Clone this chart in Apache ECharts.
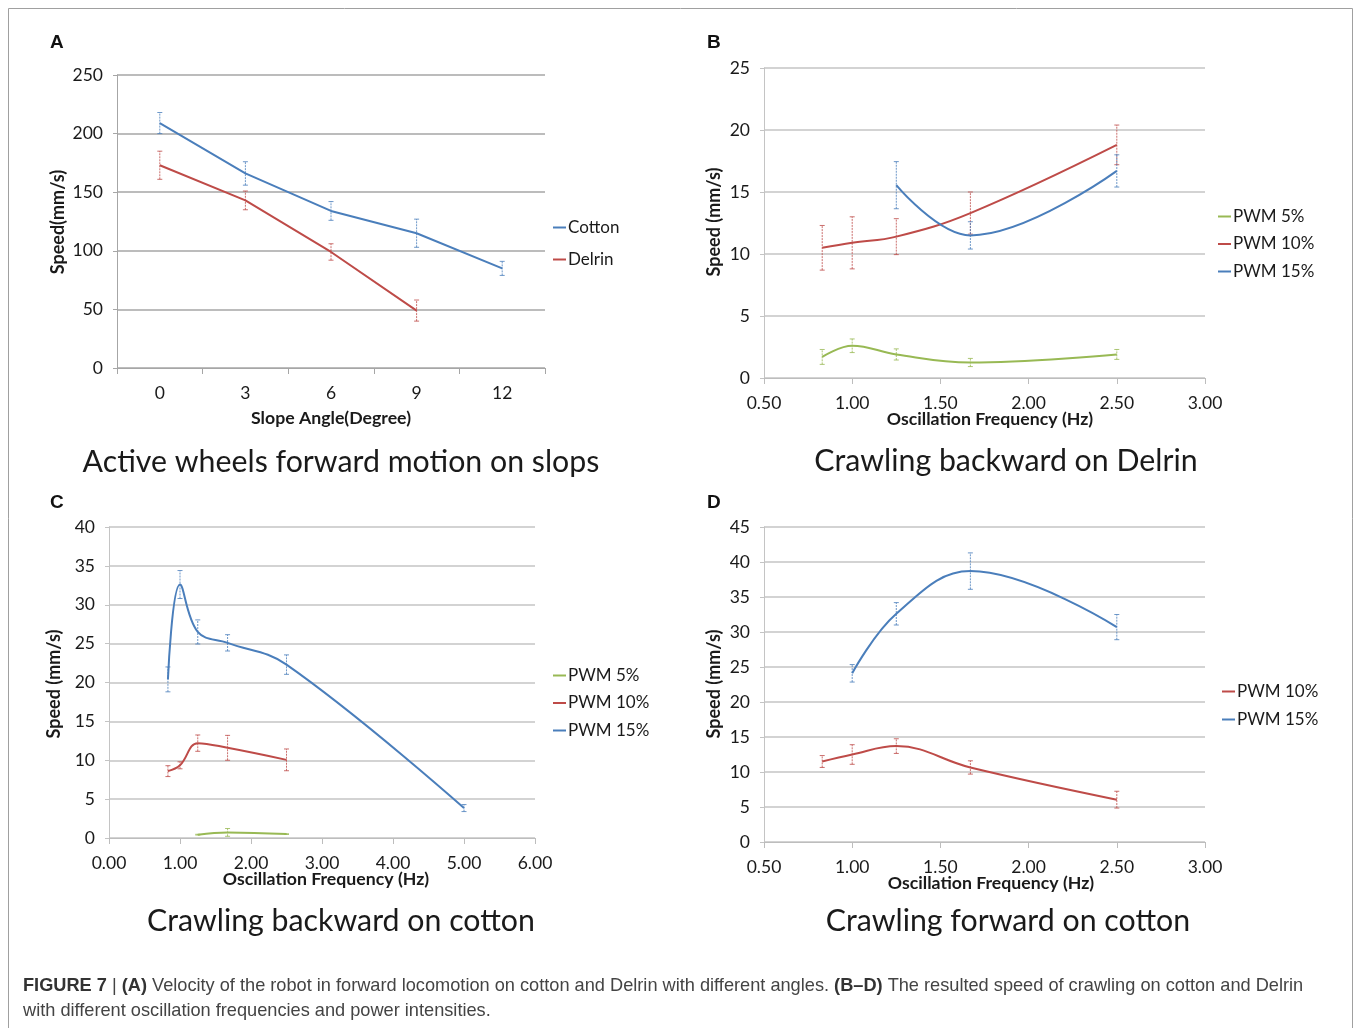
<!DOCTYPE html>
<html>
<head>
<meta charset="utf-8">
<script src="https://cdn.jsdelivr.net/npm/echarts@6/dist/echarts.min.js"></script>
<style>
html,body{margin:0;padding:0;background:#fff;}
#chart{width:1357px;height:1028px;}
</style>
</head>
<body>
<div id="chart"></div>
<script>
// ---------- DATA ----------
// Panel A
const catsA = ['0', '3', '6', '9', '12'];
const cottonA = [209, 166, 134, 115, 85];
const cottonAErr = [9, 10, 8, 12, 6];
const delrinA = [173, 143, 99, 49];
const delrinAErr = [12, 8, 7, 9];
const ticksYA = [0, 50, 100, 150, 200, 250];

// Panel B (Delrin backward)
const freqB5 = [0.83, 1.0, 1.25, 1.67, 2.5];
const pwm5B = [1.7, 2.6, 1.9, 1.25, 1.9];
const pwm5BErr = [0.6, 0.55, 0.45, 0.33, 0.4];
const freqB10 = [0.83, 1.0, 1.25, 1.67, 2.5];
const pwm10B = [10.5, 10.9, 11.4, 13.3, 18.8];
const pwm10BErr = [1.8, 2.1, 1.45, 1.7, 1.6];
const freqB15 = [1.25, 1.67, 2.5];
const pwm15B = [15.55, 11.5, 16.7];
const pwm15BErr = [1.9, 1.1, 1.3];
const ticksXB = [0.5, 1.0, 1.5, 2.0, 2.5, 3.0];
const ticksYB = [0, 5, 10, 15, 20, 25];

// Panel C (cotton backward)
const freqC5 = [1.25, 1.67, 2.5];
const pwm5C = [0.43, 0.72, 0.5];
const pwm5CErr = [0.05, 0.5, 0.05];
const freqC10 = [0.83, 1.0, 1.25, 1.67, 2.5];
const pwm10C = [8.6, 9.35, 12.2, 11.6, 10.05];
const pwm10CErr = [0.7, 0.45, 1.05, 1.6, 1.4];
const freqC15 = [0.83, 1.0, 1.25, 1.67, 2.5, 5.0];
const pwm15C = [20.4, 32.6, 26.5, 25.1, 22.3, 3.85];
const pwm15CErr = [1.6, 1.8, 1.55, 1.05, 1.25, 0.45];
const ticksXC = [0, 1, 2, 3, 4, 5, 6];
const ticksYC = [0, 5, 10, 15, 20, 25, 30, 35, 40];

// Panel D (cotton forward)
const freqD10 = [0.83, 1.0, 1.25, 1.67, 2.5];
const pwm10D = [11.5, 12.5, 13.7, 10.65, 6.05];
const pwm10DErr = [0.85, 1.4, 1.05, 0.95, 1.2];
const freqD15 = [1.0, 1.25, 1.67, 2.5];
const pwm15D = [24.1, 32.6, 38.7, 30.7];
const pwm15DErr = [1.25, 1.6, 2.6, 1.8];
const ticksXD = [0.5, 1.0, 1.5, 2.0, 2.5, 3.0];
const ticksYD = [0, 5, 10, 15, 20, 25, 30, 35, 40, 45];

// ---------- STYLE ----------
const BLUE = '#4a7ebb', RED = '#be4b48', GREEN = '#98b954';
const FONT = 'Lato';
const TXT = '#1a1a1a';

const chart = echarts.init(document.getElementById('chart'), null, {renderer: 'canvas'});

function pairs(xs, ys) { return xs.map((x, i) => [x, ys[i]]); }
function errData(xs, ys, es) { return xs.map((x, i) => [x, ys[i] - es[i], ys[i] + es[i]]); }

function errRender(params, api) {
  const x = api.value(0), lo = api.value(1), hi = api.value(2);
  const a = api.coord([x, lo]), b = api.coord([x, hi]);
  const c = api.visual('color');
  const w = 2.5;
  return {type: 'group', children: [
    {type: 'line', shape: {x1: a[0], y1: a[1], x2: b[0], y2: b[1]}, style: {stroke: c, lineWidth: 1, lineDash: [2, 1], opacity: 0.8}},
    {type: 'line', shape: {x1: a[0] - w, y1: a[1], x2: a[0] + w, y2: a[1]}, style: {stroke: c, lineWidth: 1, opacity: 0.8}},
    {type: 'line', shape: {x1: b[0] - w, y1: b[1], x2: b[0] + w, y2: b[1]}, style: {stroke: c, lineWidth: 1, opacity: 0.8}}
  ]};
}

function lineSeries(name, idx, data, color, smooth) {
  return {name: name, type: 'line', xAxisIndex: idx, yAxisIndex: idx, data: data,
    showSymbol: false, smooth: smooth, color: color,
    lineStyle: {color: color, width: 2}, itemStyle: {color: color}, z: 3, silent: true};
}
function errSeries(name, idx, data, color) {
  return {name: name, type: 'custom', xAxisIndex: idx, yAxisIndex: idx, data: data,
    renderItem: errRender, itemStyle: {color: color}, encode: {x: 0, y: [1, 2]}, z: 2, silent: true};
}

const grids = [
  {left: 117, top: 75, width: 428, height: 293},
  {left: 764, top: 68, width: 441, height: 310},
  {left: 109, top: 527, width: 426, height: 311},
  {left: 764, top: 527, width: 441, height: 315}
];

function yAxis(idx, ticks, gridColor) {
  return {type: 'value', gridIndex: idx, min: ticks[0], max: ticks[ticks.length - 1], interval: ticks[1] - ticks[0],
    axisLine: {show: true, lineStyle: {color: gridColor, width: 1}},
    axisTick: {show: true, length: 4, lineStyle: {color: gridColor}},
    splitLine: {show: true, lineStyle: {color: gridColor, width: 1.5}},
    axisLabel: {fontFamily: FONT, fontSize: 17.5, color: TXT, margin: 14}};
}
function xValAxis(idx, ticks, fmt, margin) {
  return {type: 'value', gridIndex: idx, min: ticks[0], max: ticks[ticks.length - 1], interval: ticks[1] - ticks[0],
    axisLine: {show: true, onZero: false, lineStyle: {color: '#bdbdbd', width: 1}},
    axisTick: {show: true, length: 6, lineStyle: {color: '#bdbdbd'}},
    splitLine: {show: false},
    axisLabel: {fontFamily: FONT, fontSize: 17.5, color: TXT, margin: margin, formatter: v => v.toFixed(fmt)}};
}

const xAxes = [
  {type: 'category', gridIndex: 0, data: catsA, boundaryGap: true,
    axisLine: {show: true, lineStyle: {color: '#a6a6a6'}},
    axisTick: {show: true, length: 6, alignWithLabel: false, lineStyle: {color: '#a6a6a6'}},
    axisLabel: {fontFamily: FONT, fontSize: 17.5, color: TXT, margin: 16}},
  xValAxis(1, ticksXB, 2, 16),
  xValAxis(2, ticksXC, 2, 16),
  xValAxis(3, ticksXD, 2, 16)
];
const yAxes = [
  yAxis(0, ticksYA, '#a6a6a6'),
  yAxis(1, ticksYB, '#c4c4c4'),
  yAxis(2, ticksYC, '#c4c4c4'),
  yAxis(3, ticksYD, '#c4c4c4')
];

const SM = 0.4;
const series = [
  // A
  errSeries('eA1', 0, catsA.map((c, i) => [i, cottonA[i] - cottonAErr[i], cottonA[i] + cottonAErr[i]]), BLUE),
  errSeries('eA2', 0, delrinA.map((v, i) => [i, v - delrinAErr[i], v + delrinAErr[i]]), RED),
  lineSeries('Cotton', 0, cottonA, BLUE, false),
  lineSeries('Delrin', 0, delrinA, RED, false),
  // B
  errSeries('eB5', 1, errData(freqB5, pwm5B, pwm5BErr), GREEN),
  errSeries('eB10', 1, errData(freqB10, pwm10B, pwm10BErr), RED),
  errSeries('eB15', 1, errData(freqB15, pwm15B, pwm15BErr), BLUE),
  lineSeries('PWM 5%', 1, pairs(freqB5, pwm5B), GREEN, SM),
  lineSeries('PWM 10%', 1, pairs(freqB10, pwm10B), RED, SM),
  lineSeries('PWM 15%', 1, pairs(freqB15, pwm15B), BLUE, SM),
  // C
  errSeries('eC5', 2, errData(freqC5, pwm5C, pwm5CErr), GREEN),
  errSeries('eC10', 2, errData(freqC10, pwm10C, pwm10CErr), RED),
  errSeries('eC15', 2, errData(freqC15, pwm15C, pwm15CErr), BLUE),
  lineSeries('PWM 5%', 2, pairs(freqC5, pwm5C), GREEN, SM),
  lineSeries('PWM 10%', 2, pairs(freqC10, pwm10C), RED, SM),
  lineSeries('PWM 15%', 2, pairs(freqC15, pwm15C), BLUE, SM),
  // D
  errSeries('eD10', 3, errData(freqD10, pwm10D, pwm10DErr), RED),
  errSeries('eD15', 3, errData(freqD15, pwm15D, pwm15DErr), BLUE),
  lineSeries('PWM 10%', 3, pairs(freqD10, pwm10D), RED, SM),
  lineSeries('PWM 15%', 3, pairs(freqD15, pwm15D), BLUE, SM)
];

function legend(names, left, top, gap) {
  return {data: names, orient: 'vertical', left: left, top: top, itemGap: gap, padding: 0,
    icon: 'rect', itemWidth: 13, itemHeight: 2, selectedMode: false,
    textStyle: {fontFamily: FONT, fontSize: 17, color: TXT, padding: [0, 0, 0, -3]}};
}
const legends = [
  legend(['Cotton', 'Delrin'], 553, 219, 15),
  legend(['PWM 5%', 'PWM 10%', 'PWM 15%'], 1218, 208, 10.5),
  legend(['PWM 5%', 'PWM 10%', 'PWM 15%'], 553, 667, 10.5),
  legend(['PWM 10%', 'PWM 15%'], 1222, 683, 11)
];

function txt(x, y, s, size, weight, extra) {
  return Object.assign({type: 'text', x: x, y: y, silent: true,
    style: {text: s, fontFamily: FONT, fontSize: size, fontWeight: weight, fill: TXT, align: 'center', verticalAlign: 'middle'}}, extra || {});
}
function ytitle(x, y, s) {
  return {type: 'text', x: x, y: y, rotation: Math.PI / 2, silent: true,
    style: {text: s, fontFamily: FONT, fontSize: 18, fontWeight: 'bold', fill: TXT, align: 'center', verticalAlign: 'middle'}};
}
function letter(x, y, s) {
  return {type: 'text', x: x, y: y, silent: true,
    style: {text: s, fontFamily: 'Liberation Sans', fontSize: 19, fontWeight: 'bold', fill: '#111', align: 'left', verticalAlign: 'middle'}};
}

const capRich = {
  b: {fontFamily: 'Liberation Sans', fontSize: 18.2, fontWeight: 'bold', fill: '#333'},
  n: {fontFamily: 'Liberation Sans', fontSize: 18.2, fill: '#444'}
};
const TS = 30.3;
const graphic = [
  {type: 'rect', silent: true, shape: {x: 8.5, y: 8.5, width: 1344, height: 1040}, style: {fill: 'none', stroke: '#a0a0a0', lineWidth: 1}},
  letter(50, 43, 'A'), letter(707, 43, 'B'), letter(50, 503, 'C'), letter(707, 503, 'D'),
  txt(341, 462, 'Active wheels forward motion on slops', TS, 'normal'),
  txt(1006, 461, 'Crawling backward on Delrin', TS, 'normal'),
  txt(341, 921, 'Crawling backward on cotton', TS, 'normal'),
  txt(1008, 921, 'Crawling forward on cotton', TS, 'normal'),
  txt(331, 418, 'Slope Angle(Degree)', 17.7, 'bold'),
  txt(990, 419, 'Oscillation Frequency (Hz)', 17.7, 'bold'),
  txt(326, 879, 'Oscillation Frequency (Hz)', 17.7, 'bold'),
  txt(991, 883, 'Oscillation Frequency (Hz)', 17.7, 'bold'),
  ytitle(58, 222, 'Speed(mm/s)'),
  ytitle(714, 222, 'Speed (mm/s)'),
  ytitle(54, 684, 'Speed (mm/s)'),
  ytitle(714, 684, 'Speed (mm/s)'),
  {type: 'text', x: 23, y: 986, silent: true, style: {
    text: '{b|FIGURE 7}{n| | }{b|(A)}{n| Velocity of the robot in forward locomotion on cotton and Delrin with different angles. }{b|(B–D)}{n| The resulted speed of crawling on cotton and Delrin}',
    rich: capRich, align: 'left', verticalAlign: 'middle'}},
  {type: 'text', x: 23, y: 1011, silent: true, style: {
    text: '{n|with different oscillation frequencies and power intensities.}',
    rich: capRich, align: 'left', verticalAlign: 'middle'}}
];

chart.setOption({
  animation: false,
  backgroundColor: '#ffffff',
  grid: grids,
  xAxis: xAxes,
  yAxis: yAxes,
  legend: legends,
  series: series,
  graphic: graphic
});
</script>
</body>
</html>
